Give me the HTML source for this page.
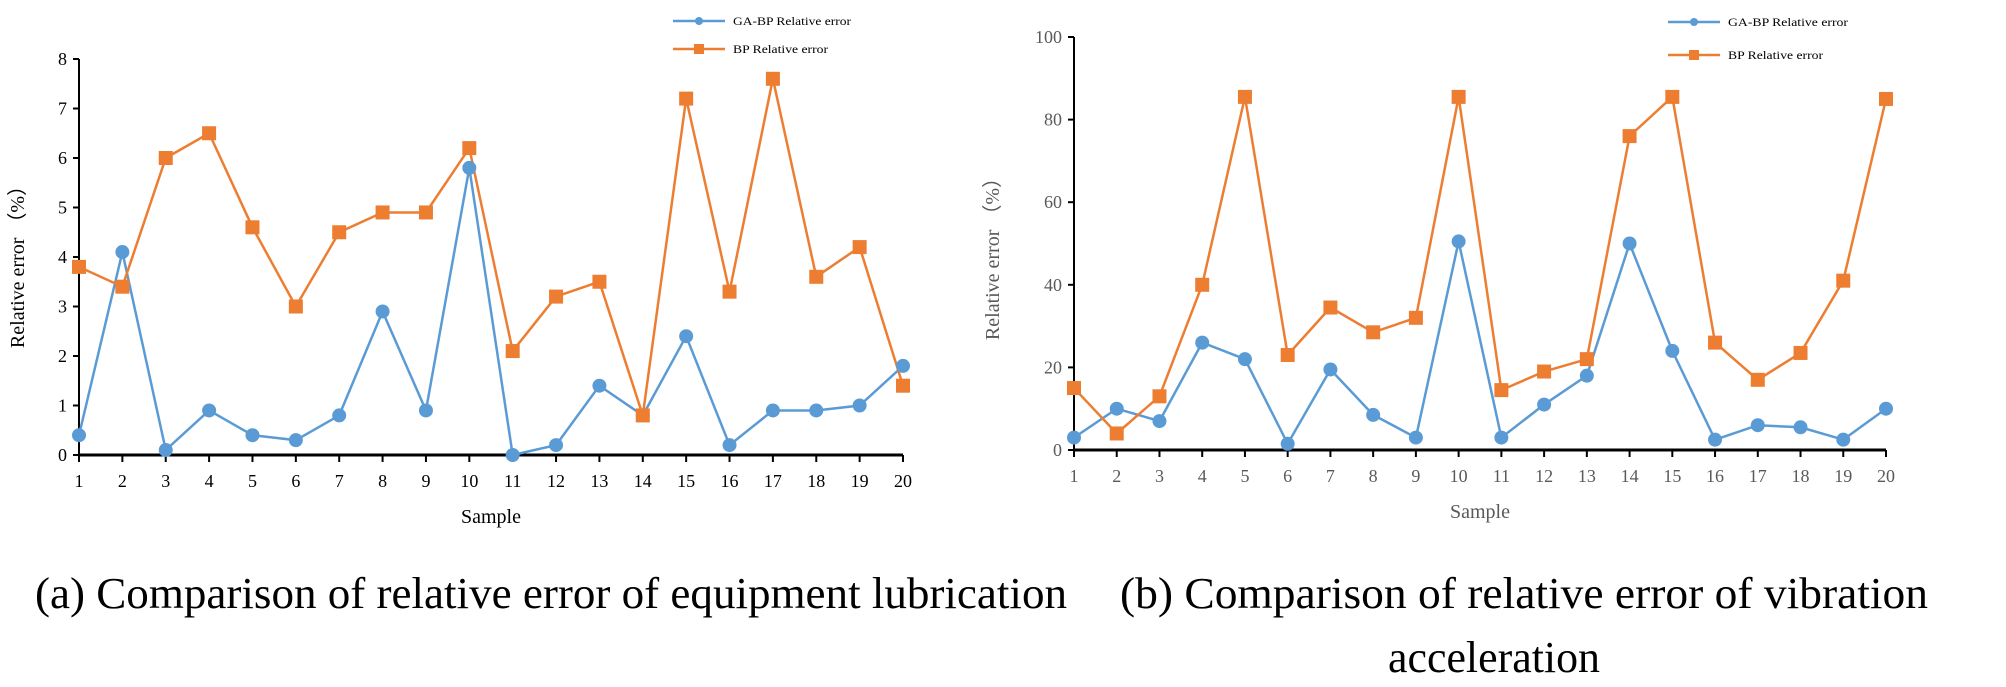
<!DOCTYPE html>
<html><head><meta charset="utf-8"><style>body{margin:0;background:#fff}svg{display:block}</style></head>
<body>
<svg id="s" width="2006" height="687" xmlns="http://www.w3.org/2000/svg" font-family="Liberation Serif, serif">
<text x="35" y="608" font-size="44" textLength="1032" lengthAdjust="spacingAndGlyphs">(a) Comparison of relative error of equipment lubrication</text>
<text x="1120" y="608" font-size="44" textLength="808" lengthAdjust="spacingAndGlyphs">(b) Comparison of relative error of vibration</text>
<text x="1388" y="672" font-size="44" textLength="212" lengthAdjust="spacingAndGlyphs">acceleration</text>
</svg>
<script>
const s=document.getElementById('s');const NS='http://www.w3.org/2000/svg';
function el(t,a,txt){const e=document.createElementNS(NS,t);for(const k in a)e.setAttribute(k,a[k]);if(txt!==undefined)e.textContent=txt;s.appendChild(e);return e;}
function chart(o){
 const X=i=>o.x0+(o.x1-o.x0)*i/19, Y=v=>o.y0-(o.y0-o.yt)*v/o.ymax;
 el('line',{x1:o.x0,y1:o.yt,x2:o.x0,y2:o.y0,stroke:'#000','stroke-width':2});
 el('line',{x1:o.x0,y1:o.y0,x2:o.x1,y2:o.y0,stroke:'#000','stroke-width':3});
 for(let k=0;k<=o.n;k++){const v=o.ymax*k/o.n,y=Y(v);
  el('line',{x1:o.x0-6,y1:y,x2:o.x0,y2:y,stroke:'#000','stroke-width':2});
  el('text',{x:o.x0-12,y:y+6,'font-size':18,'text-anchor':'end',fill:o.c},String(v));}
 for(let i=0;i<20;i++){const x=X(i);
  el('line',{x1:x,y1:o.y0,x2:x,y2:o.y0+7,stroke:'#000','stroke-width':2});
  el('text',{x:x,y:o.y0+32,'font-size':18,'text-anchor':'middle',fill:o.c},String(i+1));}
 el('text',{x:(o.x0+o.x1)/2,y:o.y0+68,'font-size':20,'text-anchor':'middle',fill:o.c},'Sample');
 el('text',{x:0,y:0,'font-size':20,'text-anchor':'middle',fill:o.c,transform:`translate(${o.tx},${o.ty}) rotate(-90)`},'Relative error （%）');
 const pl=(d,c)=>el('polyline',{points:d.map((v,i)=>X(i)+','+Y(v)).join(' '),fill:'none',stroke:c,'stroke-width':2.5});
 pl(o.ga,'#5b9bd5');pl(o.bp,'#ed7d31');
 o.ga.forEach((v,i)=>el('circle',{cx:X(i),cy:Y(v),r:7,fill:'#5b9bd5'}));
 o.bp.forEach((v,i)=>el('rect',{x:X(i)-7,y:Y(v)-7,width:14,height:14,fill:'#ed7d31'}));
 el('line',{x1:o.lx,y1:o.ly1,x2:o.lx+52,y2:o.ly1,stroke:'#5b9bd5','stroke-width':2.5});
 el('circle',{cx:o.lx+26,cy:o.ly1,r:4,fill:'#5b9bd5'});
 el('line',{x1:o.lx,y1:o.ly2,x2:o.lx+52,y2:o.ly2,stroke:'#ed7d31','stroke-width':2.5});
 el('rect',{x:o.lx+21,y:o.ly2-5,width:10,height:10,fill:'#ed7d31'});
 el('text',{x:o.lx+60,y:o.ly1+4,'font-size':12,textLength:o.t1,lengthAdjust:'spacingAndGlyphs'},o.l1);
 el('text',{x:o.lx+60,y:o.ly2+4,'font-size':12,textLength:o.t2,lengthAdjust:'spacingAndGlyphs'},'BP Relative error');
}
chart({x0:79,x1:903,y0:455,yt:59,ymax:8,n:8,c:'#000',tx:24,ty:262,lx:673,ly1:21,ly2:49,l1:'GA-BP Relative error',t1:118,t2:95,
 ga:[.4,4.1,.1,.9,.4,.3,.8,2.9,.9,5.8,0,.2,1.4,.8,2.4,.2,.9,.9,1,1.8],
 bp:[3.8,3.4,6,6.5,4.6,3,4.5,4.9,4.9,6.2,2.1,3.2,3.5,.8,7.2,3.3,7.6,3.6,4.2,1.4]});
chart({x0:1074,x1:1886,y0:450,yt:37,ymax:100,n:5,c:'#595959',tx:999,ty:254,lx:1668,ly1:22,ly2:55,l1:'GA-BP Relative error',t1:120,t2:95,
 ga:[3,10,7,26,22,1.5,19.5,8.5,3,50.5,3,11,18,50,24,2.5,6,5.5,2.5,10],
 bp:[15,4,13,40,85.5,23,34.5,28.5,32,85.5,14.5,19,22,76,85.5,26,17,23.5,41,85]});
</script>
</body></html>
